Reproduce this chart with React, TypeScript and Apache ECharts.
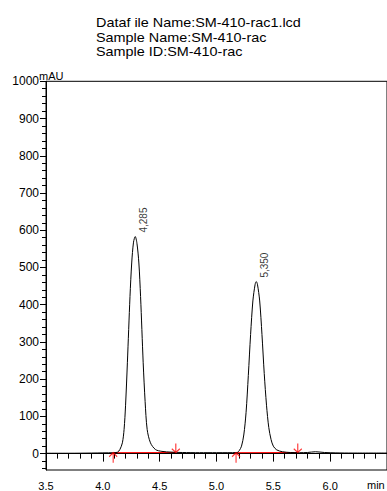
import React, { useEffect, useRef } from "react";
import * as echarts from "echarts";

const titleLines = [
  "Dataf ile Name:SM-410-rac1.lcd",
  "Sample Name:SM-410-rac",
  "Sample ID:SM-410-rac",
];
const yUnit = "mAU";
const xUnit = "min";

const traceTime = [
  3.5, 3.7, 3.9, 4.0, 4.1, 4.13, 4.15, 4.172, 4.187, 4.2, 4.216, 4.239, 4.254, 4.27, 4.285,
  4.3, 4.317, 4.332, 4.355, 4.372, 4.39, 4.419, 4.463, 4.52, 4.6, 4.7, 4.85, 5.0, 5.1,
  5.18, 5.2, 5.22, 5.24, 5.26, 5.28, 5.3, 5.32, 5.34, 5.35, 5.36, 5.38, 5.4, 5.42, 5.44,
  5.46, 5.48, 5.5, 5.53, 5.58, 5.65, 5.73, 5.8, 5.87, 5.95, 6.05, 6.2, 6.5,
];
const traceMAU = [
  1, 1, 1.5, 2, 2.5, 4, 11, 29, 65, 130, 244, 422, 512, 568, 583,
  565, 512, 422, 244, 140, 65, 29, 11, 6, 4, 3, 2.5, 2.5, 2.5,
  3, 8, 20, 50, 110, 210, 320, 410, 455, 462, 455, 410, 320, 215, 130,
  70, 38, 20, 10, 5, 3, 2.5, 3, 5, 3, 2, 1.5, 1.5,
];

const peakTimes = [4.285, 5.35];
const peakHeights = [583, 462];
const peakLabels = ["4,285", "5,350"];

const baseStartTime = [4.091, 5.172];
const baseStartMAU = [2.5, 2.5];
const baseEndTime = [4.642, 5.715];
const baseEndMAU = [3, 3];

const yTickLabels = [0, 100, 200, 300, 400, 500, 600, 700, 800, 900, 1000];
const yMinorTicks = [
  -40, -20, 0, 20, 40, 60, 80, 100, 120, 140, 160, 180, 200, 220, 240, 260, 280, 300, 320,
  340, 360, 380, 400, 420, 440, 460, 480, 500, 520, 540, 560, 580, 600, 620, 640, 660, 680,
  700, 720, 740, 760, 780, 800, 820, 840, 860, 880, 900, 920, 940, 960, 980, 1000,
];
const xTickLabels = [3.5, 4.0, 4.5, 5.0, 5.5, 6.0];

const FONT = "Liberation Sans, Arial, sans-serif";
const UP_ARROW = "path://M5,0 L5,12 M1,5 L5,0 L9,5";
const DOWN_ARROW = "path://M5,0 L5,12 M1,7 L5,12 L9,7";

export default function App() {
  const ref = useRef<HTMLDivElement>(null);
  useEffect(() => {
    if (!ref.current) return;
    const chart = echarts.init(ref.current, null, { renderer: "svg" });
    const yRange = { min: -44, max: 1000 };
    const arrowStyle = { color: "rgba(0,0,0,0)", borderColor: "#ff0000", borderWidth: 1.2 };
    const option: any = {
      animation: false,
      backgroundColor: "#ffffff",
      textStyle: { fontFamily: FONT },
      grid: {
        left: 46,
        top: 81.3,
        right: -4,
        bottom: 20.3,
        show: true,
        borderColor: "#000",
        borderWidth: 1,
        backgroundColor: "transparent",
      },
      xAxis: {
        type: "value",
        min: 3.5,
        max: 6.5,
        interval: 0.5,
        axisLine: { show: true, lineStyle: { color: "#000", width: 1 } },
        axisTick: { show: true, length: 8, lineStyle: { color: "#000" } },
        minorTick: { show: true, splitNumber: 5, length: 5, lineStyle: { color: "#000" } },
        splitLine: { show: false },
        minorSplitLine: { show: false },
        axisLabel: {
          customValues: xTickLabels,
          formatter: (v: number) => v.toFixed(1),
          color: "#000",
          fontSize: 11,
          fontFamily: FONT,
          margin: 10,
        },
      },
      yAxis: [
        {
          type: "value",
          ...yRange,
          axisLine: { show: true, lineStyle: { color: "#000", width: 1 } },
          axisTick: { show: true, length: 4, customValues: yMinorTicks, lineStyle: { color: "#000" } },
          splitLine: { show: false },
          axisLabel: {
            customValues: yTickLabels,
            formatter: (v: number) => String(v),
            color: "#000",
            fontSize: 12,
            fontFamily: FONT,
            margin: 7,
          },
        },
        {
          type: "value",
          ...yRange,
          position: "left",
          axisLine: { show: false },
          axisTick: { show: true, length: 6, customValues: yTickLabels, lineStyle: { color: "#000" } },
          splitLine: { show: false },
          axisLabel: { show: false },
        },
      ],
      graphic: [
        ...titleLines.map((t, i) => ({
          type: "text",
          x: 96,
          y: 23.3 + i * 14.3,
          scaleX: 1.2,
          style: {
            text: t,
            font: `12px ${FONT}`,
            fill: "#000",
            verticalAlign: "middle",
          },
        })),
        {
          type: "text",
          x: 39,
          y: 76,
          style: { text: yUnit, font: `11px ${FONT}`, fill: "#000", verticalAlign: "middle" },
        },
        {
          type: "text",
          x: 367,
          y: 484.5,
          style: { text: xUnit, font: `11px ${FONT}`, fill: "#000", verticalAlign: "middle" },
        },
      ],
      series: [
        {
          name: "trace",
          type: "line",
          data: traceTime.map((t, i) => [t, traceMAU[i]]),
          showSymbol: false,
          smooth: 0.3,
          lineStyle: { color: "#000", width: 1 },
          z: 3,
        },
        ...baseStartTime.map((t, i) => ({
          name: "baseline" + i,
          type: "line",
          data: [
            [t, baseStartMAU[i]],
            [baseEndTime[i], baseEndMAU[i]],
          ],
          showSymbol: false,
          lineStyle: { color: "#ff0000", width: 1 },
          z: 2,
        })),
        {
          name: "startArrows",
          type: "scatter",
          data: baseStartTime.map((t, i) => [t, baseStartMAU[i]]),
          symbol: UP_ARROW,
          symbolSize: [8, 10],
          symbolOffset: [0, 5],
          itemStyle: arrowStyle,
          z: 5,
        },
        {
          name: "endArrows",
          type: "scatter",
          data: baseEndTime.map((t, i) => [t, baseEndMAU[i]]),
          symbol: DOWN_ARROW,
          symbolSize: [8, 9],
          symbolOffset: [0, -4.5],
          itemStyle: arrowStyle,
          z: 5,
        },
        {
          name: "peaks",
          type: "scatter",
          data: peakTimes.map((t, i) => [t, peakHeights[i]]),
          symbolSize: 0,
          label: {
            show: true,
            formatter: (p: any) => peakLabels[p.dataIndex],
            position: "top",
            distance: 4,
            rotate: 90,
            align: "left",
            verticalAlign: "middle",
            offset: [0, 8],
            fontSize: 10,
            fontFamily: FONT,
            color: "#000",
          },
          z: 6,
        },
      ],
    };
    chart.setOption(option);
    return () => chart.dispose();
  }, []);
  return (
    <div
      ref={ref}
      style={{ position: "absolute", left: 0, top: 0, width: 387, height: 491 }}
    />
  );
}
